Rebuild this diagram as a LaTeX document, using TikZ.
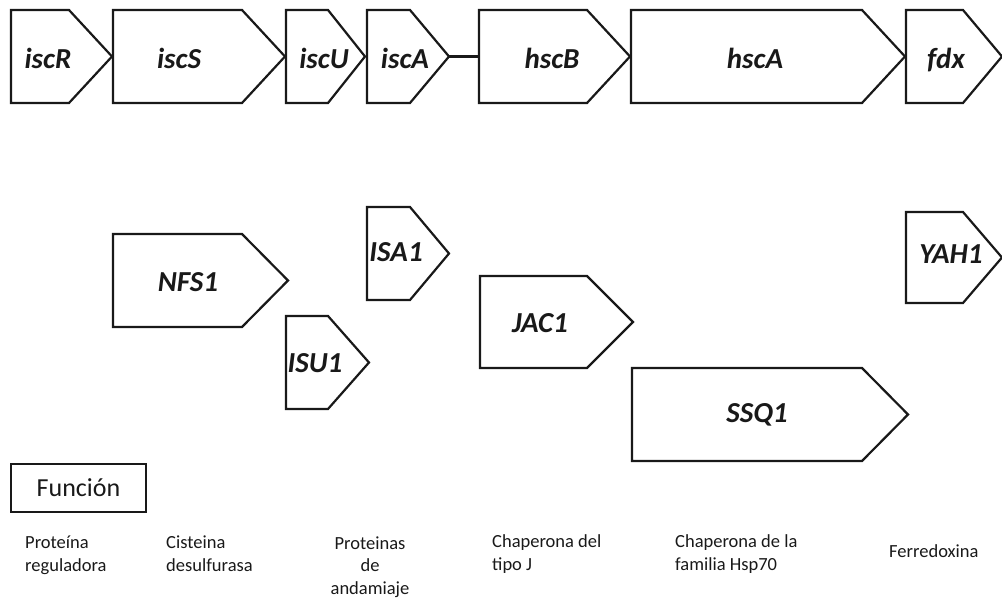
\documentclass[tikz,border=0pt]{standalone}
\usepackage{fontspec}
\setmainfont{Carlito}
% gene drawn as a pentagon arrow: name, left x, body end x, tip x, top y, bottom y
\newcommand\genearrow[6]{%
  \draw[genebox] (#2,#5) -- (#3,#5) -- (#4,{(#5+#6)/2}) -- (#3,#6) -- (#2,#6) -- cycle;
  \coordinate (#1-tip) at (#4,{(#5+#6)/2});
  \coordinate (#1-tail) at (#2,{(#5+#6)/2});}
\begin{document}
\begin{tikzpicture}[x=1pt,y=-1pt,
  genebox/.style={draw=black!90, line width=2.2pt, line join=miter},
  genelabel/.style={font=\fontsize{29}{30}\selectfont\bfseries\itshape, text=black!90, anchor=base, inner sep=0pt},
  linker/.style={draw=black!90, line width=3.5pt},
  funcbox/.style={draw=black!90, line width=2.2pt, minimum width=135pt, minimum height=48pt, inner sep=0pt,
    font=\fontsize{26}{28}\selectfont, text=black!90},
  functext/.style={font=\fontsize{18.5}{22.5}\selectfont, text=black!90, inner sep=0pt, anchor=base west, align=left}]
\useasboundingbox (0,0) rectangle (1002,601);

% operon isc
\genearrow{iscR}{11}{69}{112}{10}{103}
\genearrow{iscS}{113}{242}{285}{10}{103}
\genearrow{iscU}{286}{328}{365}{10}{103}
\genearrow{iscA}{367}{410}{449}{10}{103}
\genearrow{hscB}{479}{587}{630}{10}{103}
\genearrow{hscA}{631}{862}{905}{10}{103}
\genearrow{fdx}{906}{963}{1002}{10}{103}
\draw[linker] (iscA-tip) -- (hscB-tail);

\node[genelabel] (l-iscR) at (48,69) {iscR};
\node[genelabel] (l-iscS) at (179,69) {iscS};
\node[genelabel] (l-iscU) at (324,69) {iscU};
\node[genelabel] (l-iscA) at (405,69) {iscA};
\node[genelabel] (l-hscB) at (552,69) {hscB};
\node[genelabel] (l-hscA) at (755,69) {hscA};
\node[genelabel] (l-fdx) at (946,69) {fdx};

% yeast homologues
\genearrow{NFS1}{113}{242}{288}{234}{327}
\genearrow{ISA1}{367}{410}{449}{207}{300}
\genearrow{ISU1}{286}{328}{369}{316}{409}
\genearrow{JAC1}{480}{587}{633}{276}{368}
\genearrow{SSQ1}{632}{862}{908}{368}{461}
\genearrow{YAH1}{906}{963}{1002}{212}{303}

\node[genelabel] (l-NFS1) at (188,292) {NFS1};
\node[genelabel] (l-ISA1) at (396,262) {ISA1};
\node[genelabel] (l-ISU1) at (315,373) {ISU1};
\node[genelabel] (l-JAC1) at (540,333) {JAC1};
\node[genelabel] (l-SSQ1) at (757,423) {SSQ1};
\node[genelabel] (l-YAH1) at (951,264) {YAH1};

% function legend (base anchor sits on the last line)
\node[funcbox] (funcion) at (78.5,488) {Función};
\node[functext] (f1) at (25,571) {Proteína\\reguladora};
\node[functext] (f2) at (166,571) {Cisteina\\desulfurasa};
\node[functext, anchor=base, align=center] (f3) at (370,594) {Proteinas\\de\\andamiaje};
\node[functext] (f4) at (492,570) {Chaperona del\\tipo J};
\node[functext] (f5) at (675,570) {Chaperona de la\\familia Hsp70};
\node[functext] (f6) at (889,558) {Ferredoxina};
\end{tikzpicture}
\end{document}
